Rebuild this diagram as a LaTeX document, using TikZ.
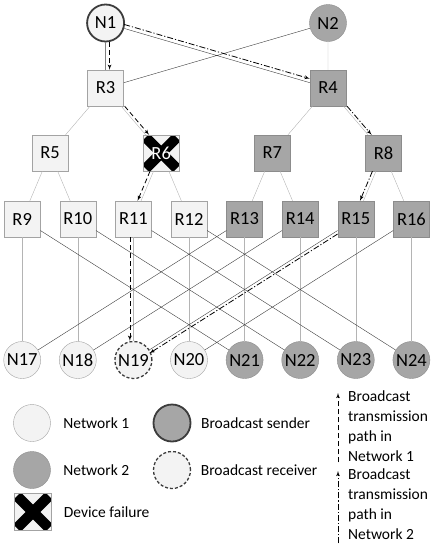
\documentclass[tikz,border=0pt]{standalone}
\usepackage{fontspec}
\setmainfont{Carlito}
\usepackage{tikz}
\usetikzlibrary{arrows,positioning}
\usepackage{xcolor}

\definecolor{netonefill}{HTML}{F3F3F3}
\definecolor{netoneedge}{HTML}{A3A3A3}
\definecolor{nettwofill}{HTML}{A6A6A6}
\definecolor{nettwoedge}{HTML}{8C8C8C}
\definecolor{linklight}{HTML}{B4B4B4}
\definecolor{linkdark}{HTML}{3C3C3C}

\begin{document}
\begin{tikzpicture}[x=1pt,y=-1pt]
    \tikzstyle{router} = [rectangle, draw, minimum size=36pt, inner sep=0pt,
               font=\fontsize{18.5}{20}\selectfont]
    \tikzstyle{host} = [circle, draw, minimum size=37pt, inner sep=0pt,
               font=\fontsize{18.5}{20}\selectfont]
    \tikzstyle{net1} = [fill=netonefill, draw=netoneedge]
    \tikzstyle{net2} = [fill=nettwofill, draw=nettwoedge]
    \tikzstyle{sender} = [draw=linkdark, line width=1.8pt]
    \tikzstyle{receiver} = [fill=netonefill, draw=linkdark, line width=1.3pt,
               dash pattern=on 3pt off 2pt]
    \tikzstyle{failed} = [text=white, path picture={
        \draw[black, line width=10.5pt]
          ([shift={(2.5pt,-2.5pt)}]path picture bounding box.north west) --
          ([shift={(-2.5pt,2.5pt)}]path picture bounding box.south east)
          ([shift={(2.5pt,2.5pt)}]path picture bounding box.south west) --
          ([shift={(-2.5pt,-2.5pt)}]path picture bounding box.north east);}]
    \tikzstyle{link} = [draw=linklight, thin]
    \tikzstyle{cross} = [draw=linkdark, thin]
    \tikzstyle{path1} = [draw, line width=0.8pt, dash pattern=on 5pt off 3pt, -latex']
    \tikzstyle{path2} = [draw, line width=0.8pt, dash pattern=on 6pt off 2pt on 1.2pt off 2pt, -latex']
    \tikzstyle{legendtext} = [inner sep=0pt, font=\fontsize{15.5}{20}\selectfont]

    \useasboundingbox (0,0) rectangle (434,550);

    % Top of the tree
    \node[host, net1, sender] (N1) at (105.6,23) {N1};
    \node[host, net2] (N2) at (328,23) {N2};
    \node[router, net1] (R3) at (105.6,88) {R3};
    \node[router, net2] (R4) at (328,88) {R4};
    \node[router, net1] (R5) at (50,153) {R5};
    \node[router, net1, failed] (R6) at (161.2,153) {R6};
    \node[router, net2] (R7) at (272.4,153) {R7};
    \node[router, net2] (R8) at (383.6,153) {R8};

    % Lower routers and hosts
    \foreach \i/\s [count=\c from 0] in {9/net1,10/net1,11/net1,12/net1,
        13/net2,14/net2,15/net2,16/net2}
      \node[router, \s] (R\i) at ({22.2+55.6*\c},219) {R\i};
    \foreach \i/\s [count=\c from 0] in {17/net1,18/net1,19/receiver,20/net1,
        21/net2,22/net2,23/net2,24/net2}
      \node[host, \s] (N\i) at ({22.2+55.6*\c},360) {N\i};

    % Links
    \draw[link] (N2) -- (R4) (R3) -- (R5) (R3) -- (R6) (R4) -- (R7) (R4) -- (R8);
    \foreach \a/\b/\c in {5/9/10,6/11/12,7/13/14,8/15/16}
      \draw[link] (R\a) -- (R\b) (R\a) -- (R\c);
    \foreach \i/\j in {9/17,10/18,11/19,12/20,13/21,14/22,15/23,16/24}
      \draw[link] (R\i) -- (N\j);
    \draw[cross] (N1) -- (R3) (N1) -- (R4) (N2) -- (R3);
    \foreach \a/\b in {9/21,10/22,11/23,12/24,13/17,14/18,15/19,16/20}
      \draw[cross] (R\a) -- (N\b);

    % Broadcast paths
    \draw[path1, transform canvas={xshift=4pt}] (N1) -- (R3);
    \draw[path1, transform canvas={xshift=3.5pt}] (R3) -- (R6);
    \draw[path1, transform canvas={xshift=-3.5pt}] (R6) -- (R11);
    \draw[path1, transform canvas={xshift=-3.5pt}] (R11) -- (N19);
    \draw[path2, transform canvas={yshift=4pt}] (N1) -- (R4);
    \draw[path2, transform canvas={xshift=3.5pt}] (R4) -- (R8);
    \draw[path2, transform canvas={xshift=-3.5pt}] (R8) -- (R15);
    \draw[path2, transform canvas={yshift=-3.5pt}] (R15) -- (N19);

    % Legend
    \node[host, net1] (Lnet1) at (32,423) {};
    \node[legendtext, right=12.5pt of Lnet1] {Network 1};
    \node[host, net2] (Lnet2) at (32,470) {};
    \node[legendtext, right=12.5pt of Lnet2] {Network 2};
    \node[router, net1, failed, minimum size=37pt] (Lfail) at (33,512) {};
    \node[legendtext, right=12pt of Lfail] {Device failure};
    \node[host, net2, sender] (Lsend) at (172,423) {};
    \node[legendtext, right=9.5pt of Lsend] {Broadcast sender};
    \node[host, receiver] (Lrecv) at (172,470) {};
    \node[legendtext, right=9.5pt of Lrecv] {Broadcast receiver};

    \node[legendtext, align=left, anchor=north west] (Lpath1) at (348,391)
      {Broadcast\\transmission\\path in\\Network 1};
    \node[legendtext, align=left, anchor=north west] (Lpath2) at (348,469)
      {Broadcast\\transmission\\path in\\Network 2};
    \draw[path1] ([xshift=-10pt]Lpath1.south west) -- ([xshift=-10pt,yshift=-2pt]Lpath1.north west);
    \draw[path2] ([xshift=-10pt,yshift=-3pt]Lpath2.south west) -- ([xshift=-10pt,yshift=-2pt]Lpath2.north west);
\end{tikzpicture}
\end{document}
